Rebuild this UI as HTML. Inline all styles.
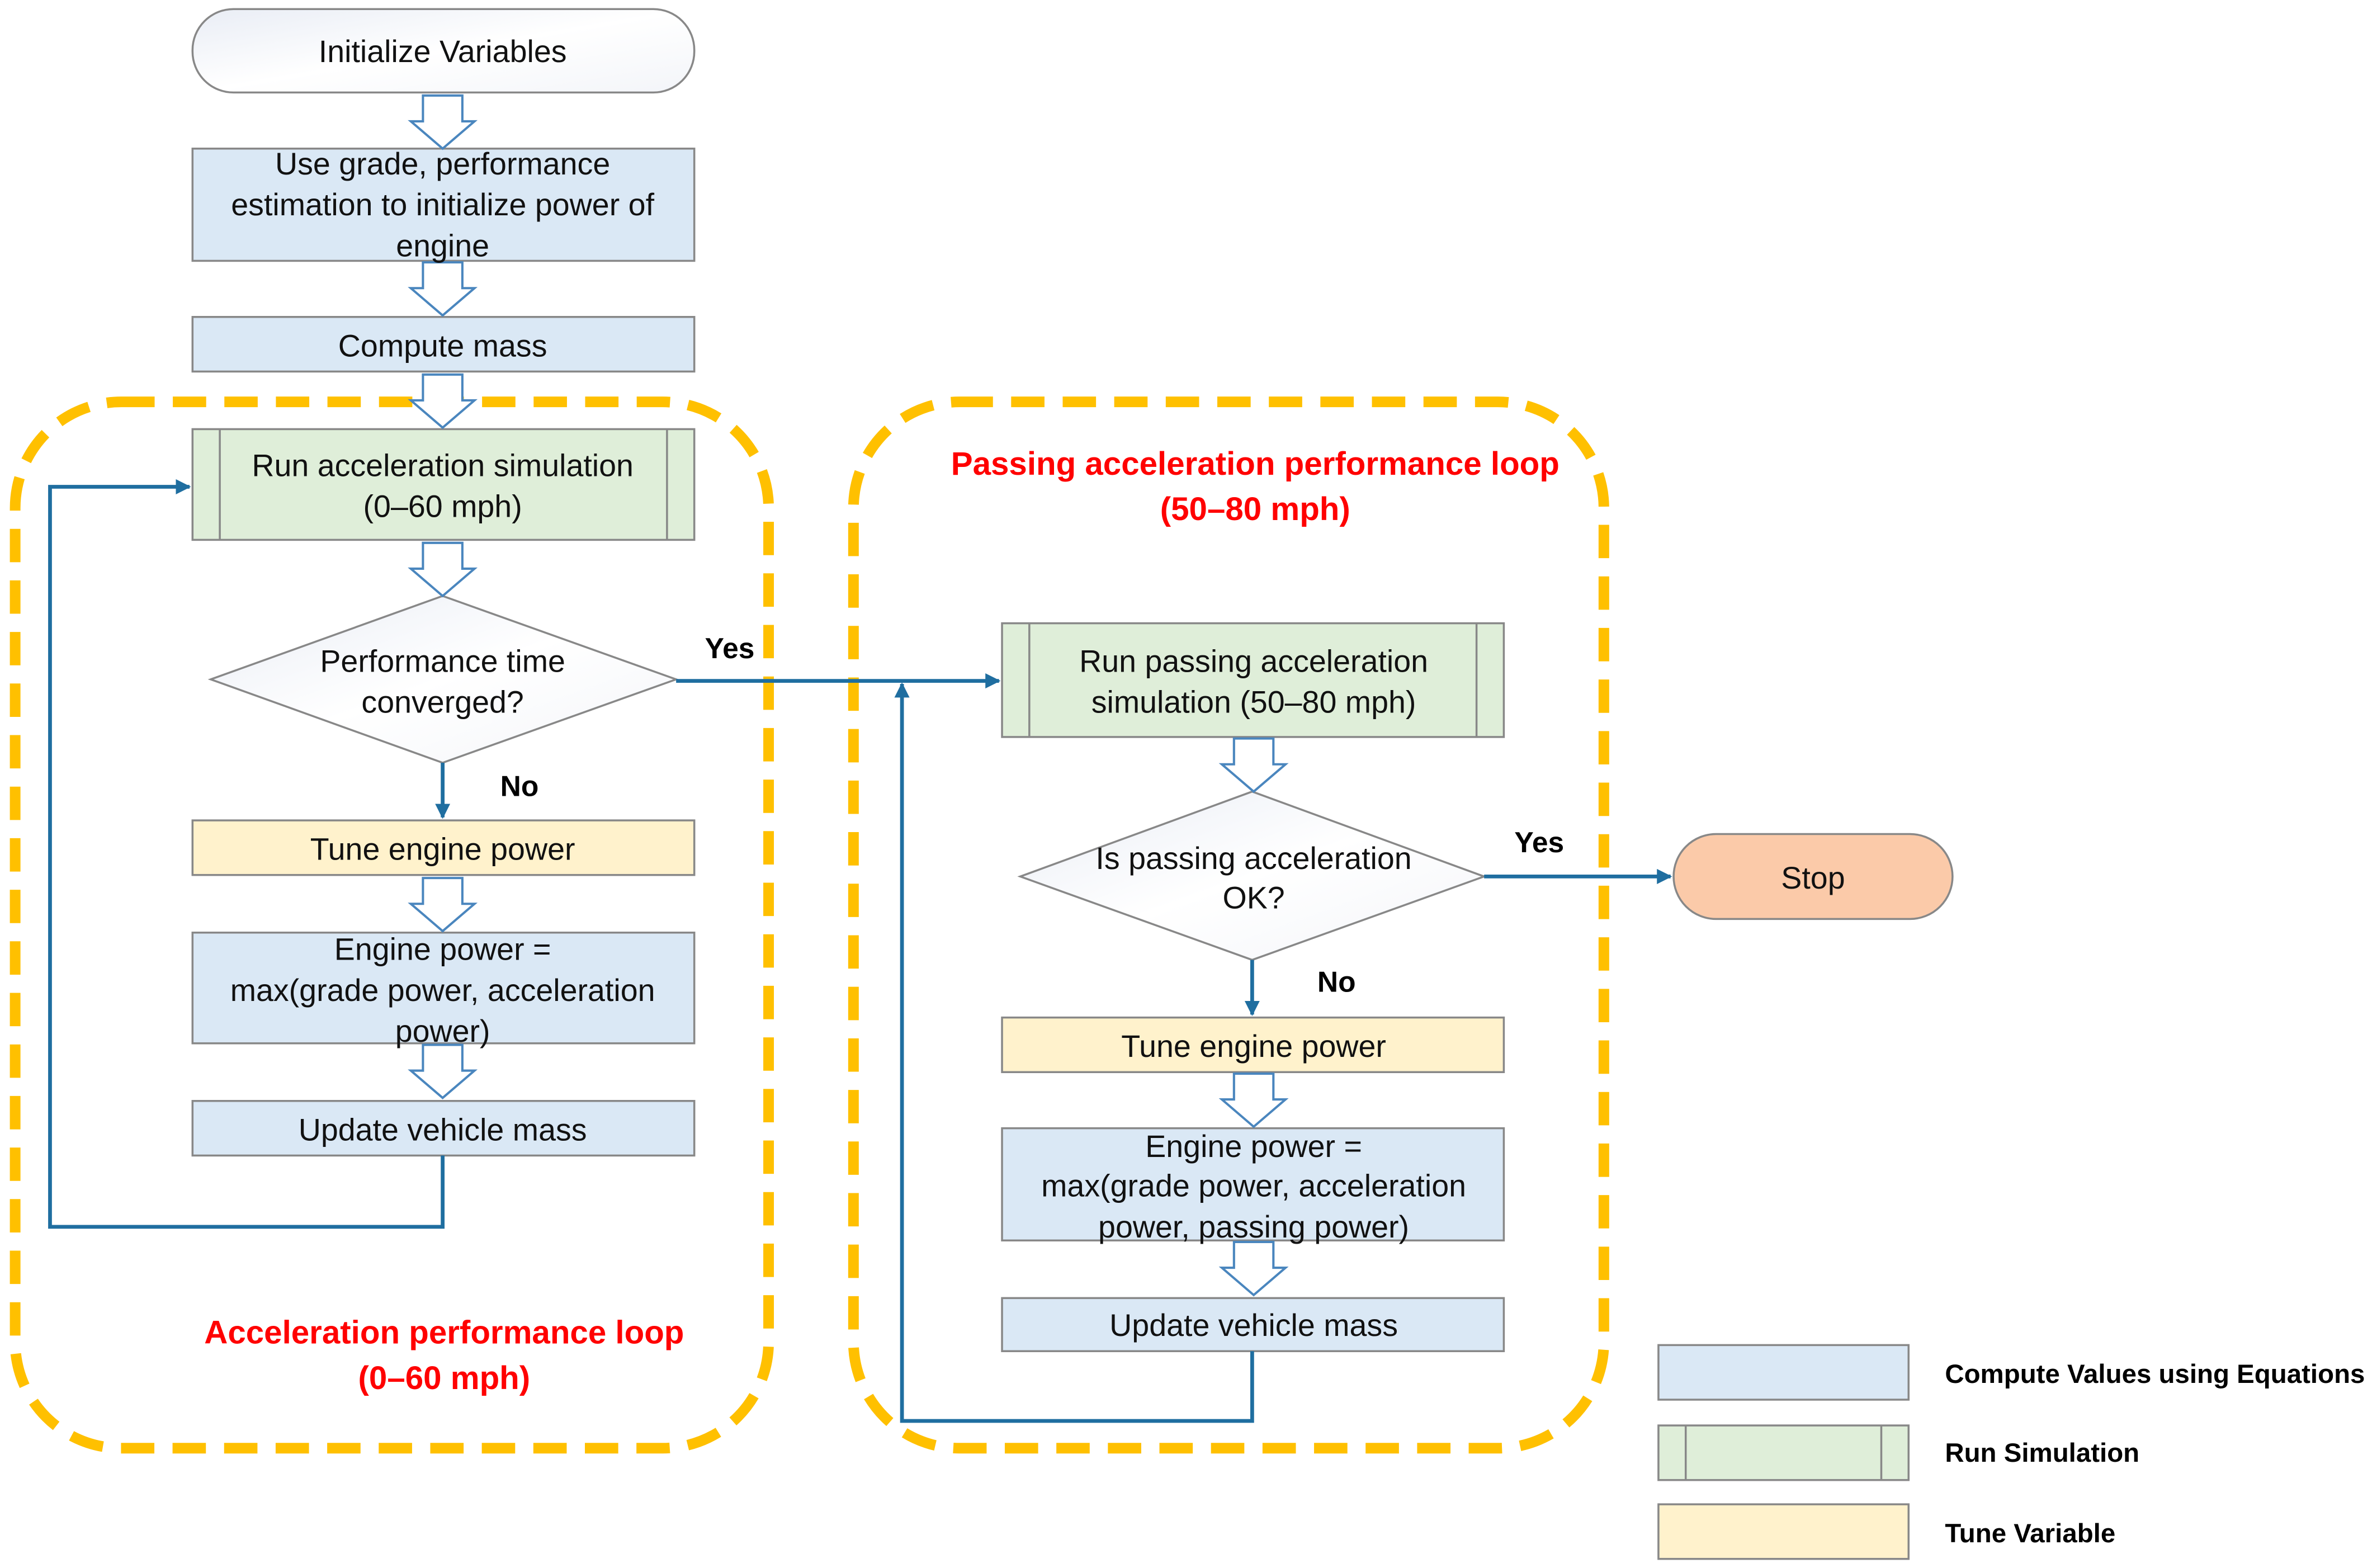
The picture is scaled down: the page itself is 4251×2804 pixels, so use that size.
<!DOCTYPE html>
<html><head><meta charset="utf-8"><style>
html,body{margin:0;padding:0;background:#fff;}
svg{display:block;}
text{font-family:"Liberation Sans",sans-serif;}
</style></head><body>
<svg width="4251" height="2804" viewBox="0 0 1568 1034" preserveAspectRatio="none" xmlns="http://www.w3.org/2000/svg">
<defs>
<linearGradient id="g1" x1="0" y1="0" x2="1" y2="1"><stop offset="0" stop-color="#e9edf5"/><stop offset="0.5" stop-color="#ffffff"/><stop offset="1" stop-color="#f3f5f9"/></linearGradient>
<marker id="ah" markerWidth="10" markerHeight="10" refX="9" refY="5" orient="auto" markerUnits="userSpaceOnUse"><path d="M0,0 L10,5 L0,10 z" fill="#1f6ea0"/></marker>
<g id="ha"><path d="M-13,0 L13,0 L13,17 L21,17 L0,35 L-21,17 L-13,17 Z" fill="#fff" stroke="#4a86be" stroke-width="1.5"/></g>
</defs>
<rect x="10" y="265" width="497" height="690" rx="70" fill="none" stroke="#ffc000" stroke-width="7" stroke-dasharray="22 12"/>
<rect x="563" y="265" width="495" height="690" rx="70" fill="none" stroke="#ffc000" stroke-width="7" stroke-dasharray="22 12"/>

<g stroke="#888" stroke-width="1.3">
<rect x="127" y="6" width="331" height="55" rx="27" fill="url(#g1)"/>
<rect x="127" y="98" width="331" height="74" fill="#dae8f5"/>
<rect x="127" y="209" width="331" height="36" fill="#dae8f5"/>
<rect x="127" y="283" width="331" height="73" fill="#dfeed9"/>
<line x1="145" y1="283" x2="145" y2="356"/><line x1="440" y1="283" x2="440" y2="356"/>
<polygon points="139,448 292,393 446,448 292,503" fill="url(#g1)"/>
<rect x="127" y="541" width="331" height="36" fill="#fff2cc"/>
<rect x="127" y="615" width="331" height="73" fill="#dae8f5"/>
<rect x="127" y="726" width="331" height="36" fill="#dae8f5"/>

<rect x="661" y="411" width="331" height="75" fill="#dfeed9"/>
<line x1="679" y1="411" x2="679" y2="486"/><line x1="974" y1="411" x2="974" y2="486"/>
<polygon points="673,578 826,522 979,578 826,633" fill="url(#g1)"/>
<rect x="1104" y="550" width="184" height="56" rx="28" fill="#fbcaa9"/>
<rect x="661" y="671" width="331" height="36" fill="#fff2cc"/>
<rect x="661" y="744" width="331" height="74" fill="#dae8f5"/>
<rect x="661" y="856" width="331" height="35" fill="#dae8f5"/>

<rect x="1094" y="887" width="165" height="36" fill="#dae8f5"/>
<rect x="1094" y="940" width="165" height="36" fill="#dfeed9"/>
<line x1="1112" y1="940" x2="1112" y2="976"/><line x1="1241" y1="940" x2="1241" y2="976"/>
<rect x="1094" y="992" width="165" height="36" fill="#fff2cc"/>
</g>

<use href="#ha" x="292" y="63"/>
<use href="#ha" x="292" y="173"/>
<use href="#ha" x="292" y="247"/>
<use href="#ha" x="292" y="358"/>
<use href="#ha" x="292" y="579"/>
<use href="#ha" x="292" y="689"/>
<use href="#ha" x="827" y="487"/>
<use href="#ha" x="827" y="708"/>
<use href="#ha" x="827" y="819"/>

<g stroke="#1f6ea0" stroke-width="2.5" fill="none">
<line x1="292" y1="503" x2="292" y2="539" marker-end="url(#ah)"/>
<polyline points="292,762 292,809 33,809 33,321 125,321" marker-end="url(#ah)"/>
<line x1="446" y1="449" x2="659" y2="449" marker-end="url(#ah)"/>
<line x1="979" y1="578" x2="1102" y2="578" marker-end="url(#ah)"/>
<line x1="826" y1="633" x2="826" y2="669" marker-end="url(#ah)"/>
<polyline points="826,891 826,937 595,937 595,451" marker-end="url(#ah)"/>
</g>

<g font-size="20.5" fill="#111" text-anchor="middle">
<text x="292" y="41">Initialize Variables</text>
<text x="292" y="115">Use grade, performance</text>
<text x="292" y="142">estimation to initialize power of</text>
<text x="292" y="169">engine</text>
<text x="292" y="235">Compute mass</text>
<text x="292" y="314">Run acceleration simulation</text>
<text x="292" y="341">(0–60 mph)</text>
<text x="292" y="443">Performance time</text>
<text x="292" y="470">converged?</text>
<text x="292" y="567">Tune engine power</text>
<text x="292" y="633">Engine power =</text>
<text x="292" y="660">max(grade power, acceleration</text>
<text x="292" y="687">power)</text>
<text x="292" y="752">Update vehicle mass</text>
<text x="827" y="443">Run passing acceleration</text>
<text x="827" y="470">simulation (50–80 mph)</text>
<text x="827" y="573">Is passing acceleration</text>
<text x="827" y="599">OK?</text>
<text x="1196" y="586">Stop</text>
<text x="827" y="697">Tune engine power</text>
<text x="827" y="763">Engine power =</text>
<text x="827" y="789">max(grade power, acceleration</text>
<text x="827" y="816">power, passing power)</text>
<text x="827" y="881">Update vehicle mass</text>
</g>
<g font-size="19" font-weight="bold" fill="#000">
<text x="465" y="434">Yes</text>
<text x="330" y="525">No</text>
<text x="999" y="562">Yes</text>
<text x="869" y="654">No</text>
</g>
<g font-size="21.5" font-weight="bold" fill="#ff0000" text-anchor="middle">
<text x="293" y="886">Acceleration performance loop</text>
<text x="293" y="916">(0–60 mph)</text>
<text x="828" y="313">Passing acceleration performance loop</text>
<text x="828" y="343">(50–80 mph)</text>
</g>
<g font-size="17.5" font-weight="bold" fill="#000">
<text x="1283" y="912">Compute Values using Equations</text>
<text x="1283" y="964">Run Simulation</text>
<text x="1283" y="1017">Tune Variable</text>
</g>
</svg>
</body></html>
